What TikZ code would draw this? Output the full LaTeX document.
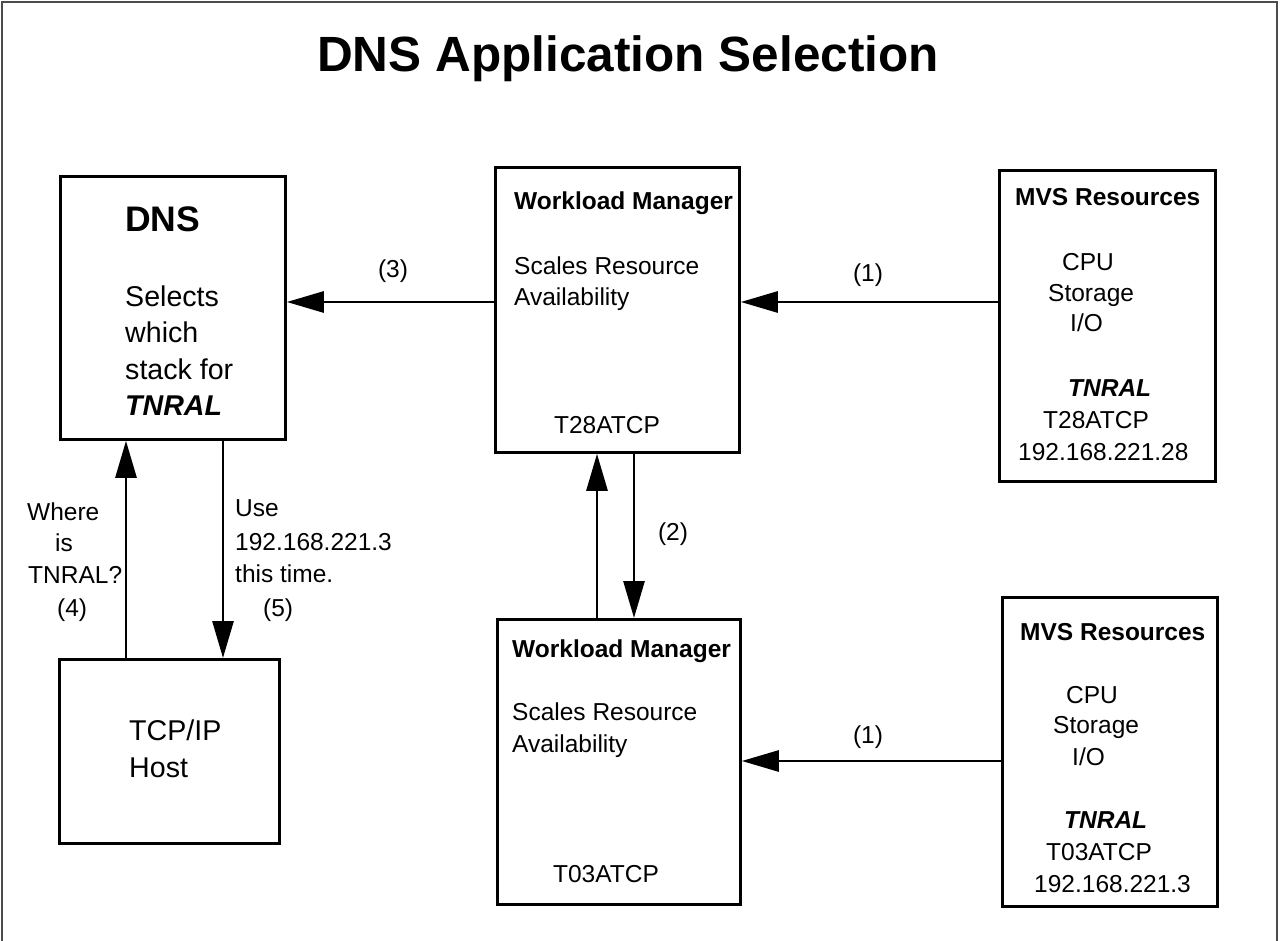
\documentclass[tikz,border=0pt]{standalone}
\usepackage{fontspec}
\setmainfont{Liberation Sans}
\usetikzlibrary{arrows.meta}
\newcommand{\bodyfont}{\fontsize{24.5}{30}\selectfont}
\newcommand{\bigfont}{\fontsize{28.6}{36}\selectfont}

\begin{document}
\begin{tikzpicture}[x=1pt,y=-1pt,
    box/.style={draw,line width=2.8pt,anchor=north west,inner sep=0pt},
    lbl/.style={anchor=base west,inner sep=0pt,font=\bodyfont},
    arr/.style={line width=2.8pt,-{Triangle[length=37pt,width=21pt]}}]
  \useasboundingbox (0,0) rectangle (1280,941);
  \draw[line width=1.5pt,black!70] (2,941) -- (2,2) -- (1277,2) -- (1277,941);
  \node[anchor=base,inner sep=0pt,font=\bfseries\fontsize{49.5}{55}\selectfont] (title) at (628,72) {DNS Application Selection};
  % boxes
  \node[box,minimum width=225pt,minimum height=263pt] (dns) at (59,175) {};
  \node[box,minimum width=220pt,minimum height=184pt] (tcp) at (58,658) {};
  \node[box,minimum width=244pt,minimum height=285pt] (wlmA) at (494,166) {};
  \node[box,minimum width=243pt,minimum height=285pt] (wlmB) at (496,618) {};
  \node[box,minimum width=216pt,minimum height=311pt] (mvsA) at (998,169) {};
  \node[box,minimum width=215pt,minimum height=309pt] (mvsB) at (1001,596) {};
  % DNS and host texts
  \node[lbl,font=\bfseries\fontsize{35.5}{40}\selectfont] (dnsT) at (125,232) {DNS};
  \foreach \y/\t [count=\i] in {307/Selects,343/which,379/stack for}
    \node[lbl,font=\bigfont] (dnsL\i) at (125,\y) {\t};
  \node[lbl,font=\bigfont\bfseries\itshape] (dnsN) at (125,415) {TNRAL};
  \node[lbl,font=\bigfont] (tcpA) at (129,740) {TCP/IP};
  \node[lbl,font=\bigfont] (tcpB) at (129,777) {Host};
  % workload managers
  \node[lbl,font=\bodyfont\bfseries] (wlmAT) at (514,210) {Workload Manager};
  \node[lbl] (wlmA1) at (514,275) {Scales Resource};
  \node[lbl] (wlmA2) at (514,306) {Availability};
  \node[lbl,anchor=base] (wlmA3) at (607,433) {T28ATCP};
  \node[lbl,font=\bodyfont\bfseries] (wlmBT) at (512,657) {Workload Manager};
  \node[lbl] (wlmB1) at (512,720) {Scales Resource};
  \node[lbl] (wlmB2) at (512,752) {Availability};
  \node[lbl,anchor=base] (wlmB3) at (606,882) {T03ATCP};
  % MVS resources
  \node[lbl,font=\bodyfont\bfseries] (mvsAT) at (1015,206) {MVS Resources};
  \foreach \x/\y/\t [count=\i] in {1062/271/CPU,1048/302/Storage,1070/332/{I/O},1043/428/T28ATCP,1018/460/192.168.221.28}
    \node[lbl] (mvsA\i) at (\x,\y) {\t};
  \node[lbl,font=\bodyfont\bfseries\itshape] (mvsAN) at (1068,396) {TNRAL};
  \node[lbl,font=\bodyfont\bfseries] (mvsBT) at (1020,640) {MVS Resources};
  \foreach \x/\y/\t [count=\i] in {1066/703/CPU,1053/733/Storage,1072/765/{I/O},1046/860/T03ATCP,1034/892/192.168.221.3}
    \node[lbl] (mvsB\i) at (\x,\y) {\t};
  \node[lbl,font=\bodyfont\bfseries\itshape] (mvsBN) at (1064,828) {TNRAL};
  % connectors
  \coordinate (yA) at (0,302);
  \coordinate (yB) at (0,761);
  \coordinate (xQ) at (126,0);
  \coordinate (xU) at (223,0);
  \coordinate (xV) at (597,0);
  \coordinate (xW) at (634,0);
  \draw[arr] (mvsA.west |- yA) -- (wlmA.east |- yA);
  \draw[arr] (mvsB.west |- yB) -- (wlmB.east |- yB);
  \draw[arr] (wlmA.west |- yA) -- (dns.east |- yA);
  \draw[arr] (tcp.north -| xQ) -- (dns.south -| xQ);
  \draw[arr] (dns.south -| xU) -- (tcp.north -| xU);
  \draw[arr] (wlmB.north -| xV) -- (wlmA.south -| xV);
  \draw[arr] (wlmA.south -| xW) -- (wlmB.north -| xW);
  \node[lbl,anchor=base] (n1a) at (868,282) {(1)};
  \node[lbl,anchor=base] (n1b) at (868,743) {(1)};
  \node[lbl,anchor=base] (n2) at (673,540) {(2)};
  \node[lbl,anchor=base] (n3) at (393,278) {(3)};
  \foreach \x/\y/\t [count=\i] in {27/520/Where,55/551/is,28/583/TNRAL?,57/616/(4)}
    \node[lbl] (ask\i) at (\x,\y) {\t};
  \foreach \x/\y/\t [count=\i] in {235/516/Use,235/550/192.168.221.3,235/582/this time.,263/616/(5)}
    \node[lbl] (ans\i) at (\x,\y) {\t};
\end{tikzpicture}
\end{document}
